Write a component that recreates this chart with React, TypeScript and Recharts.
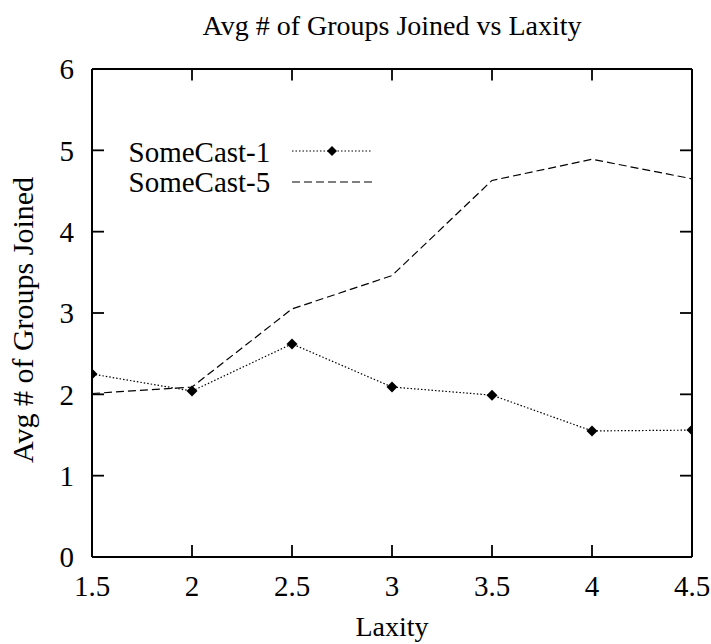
import React from 'react';
import { LineChart, Line, XAxis, YAxis, Legend, Customized, ReferenceLine } from 'recharts';

const laxity = [1.5, 2, 2.5, 3, 3.5, 4, 4.5];
const someCast1 = [2.25, 2.04, 2.62, 2.09, 1.99, 1.55, 1.56];
const someCast5 = [2.01, 2.09, 3.05, 3.46, 4.63, 4.89, 4.65];
const xTicks = [1.5, 2, 2.5, 3, 3.5, 4, 4.5];
const yTicks = [0, 1, 2, 3, 4, 5, 6];

const data = laxity.map((x, i) => ({ x, s1: someCast1[i], s5: someCast5[i] }));

const FONT = '"Liberation Serif", "Times New Roman", serif';
const DOT_DASH = '1.5 2';
const DASH = '8 4';
const X_MIN = 1.5;
const X_MAX = 4.5;
const Y_MIN = 0;
const Y_MAX = 6;
// mirrored tick lengths on the top / right frame, in data units
const TOP_TICK = 0.14;
const RIGHT_TICK = 0.06;

const Diamond = (props: any) => {
  const { cx, cy } = props;
  if (cx == null || cy == null) return null;
  const r = 5.5;
  return <path d={`M${cx},${cy - r} L${cx + r},${cy} L${cx},${cy + r} L${cx - r},${cy} Z`} fill="#000" />;
};

const LegendContent = () => (
  <svg width={270} height={72} style={{ display: 'block' }}>
    <text x={8.5} y={32} fontFamily={FONT} fontSize={29} fill="#000">SomeCast-1</text>
    <line x1={172} y1={21} x2={252} y2={21} stroke="#000" strokeWidth={1.2} strokeDasharray={DOT_DASH} />
    <path d="M212,16 L217,21 L212,26 L207,21 Z" fill="#000" />
    <text x={8.5} y={62} fontFamily={FONT} fontSize={29} fill="#000">SomeCast-5</text>
    <line x1={172} y1={52} x2={252} y2={52} stroke="#000" strokeWidth={1.2} strokeDasharray={DASH} />
  </svg>
);

const Texts = () => (
  <g>
    <text x={392} y={35} textAnchor="middle" fontFamily={FONT} fontSize={28} fill="#000">
      Avg # of Groups Joined vs Laxity
    </text>
    <text x={392} y={636} textAnchor="middle" fontFamily={FONT} fontSize={28} fill="#000">
      Laxity
    </text>
    <text x={33} y={320} textAnchor="middle" transform="rotate(-90, 33, 320)" fontFamily={FONT} fontSize={30} fill="#000">
      Avg # of Groups Joined
    </text>
  </g>
);

export default function App() {
  return (
    <div style={{ position: 'absolute', left: 0, top: 0, width: 711, height: 644, background: '#fff' }}>
      <LineChart width={711} height={644} data={data} margin={{ top: 68, right: 18, bottom: 47, left: 32 }}>
        <XAxis
          xAxisId="b"
          dataKey="x"
          type="number"
          domain={[X_MIN, X_MAX]}
          ticks={xTicks}
          tickFormatter={(v: number) => String(v)}
          height={40}
          axisLine={{ stroke: '#000', strokeWidth: 2 }}
          tickLine={{ stroke: '#000', strokeWidth: 1.8 }}
          tickSize={-12}
          tickMargin={30}
          tick={{ fill: '#000', fontFamily: FONT, fontSize: 29 }}
          allowDataOverflow
        />
        <XAxis xAxisId="t" orientation="top" dataKey="x" type="number" domain={[X_MIN, X_MAX]} height={1}
          axisLine={{ stroke: '#000', strokeWidth: 2 }} tickLine={false} tick={false as any} allowDataOverflow />
        <YAxis
          yAxisId="l"
          type="number"
          domain={[Y_MIN, Y_MAX]}
          ticks={yTicks}
          width={60}
          axisLine={{ stroke: '#000', strokeWidth: 2 }}
          tickLine={{ stroke: '#000', strokeWidth: 1.8 }}
          tickSize={-12}
          tickMargin={30}
          tick={{ fill: '#000', fontFamily: FONT, fontSize: 29 }}
        />
        <YAxis yAxisId="r" orientation="right" type="number" domain={[Y_MIN, Y_MAX]} width={1}
          axisLine={{ stroke: '#000', strokeWidth: 2 }} tickLine={false} tick={false as any} />
        <Line xAxisId="t" yAxisId="r" type="linear" dataKey="s1" stroke="none" dot={false} activeDot={false} legendType="none" isAnimationActive={false} />
        {xTicks.map((v) => (
          <ReferenceLine key={`tt${v}`} xAxisId="b" yAxisId="l"
            segment={[{ x: v, y: Y_MAX }, { x: v, y: Y_MAX - TOP_TICK }]}
            stroke="#000" strokeWidth={1.8} ifOverflow="visible" />
        ))}
        {yTicks.map((v) => (
          <ReferenceLine key={`rt${v}`} xAxisId="b" yAxisId="l"
            segment={[{ x: X_MAX, y: v }, { x: X_MAX - RIGHT_TICK, y: v }]}
            stroke="#000" strokeWidth={1.8} ifOverflow="visible" />
        ))}
        <Line xAxisId="b" yAxisId="l" type="linear" dataKey="s5" name="SomeCast-5" stroke="#000" strokeWidth={1.2}
          strokeDasharray={DASH} dot={false} activeDot={false} isAnimationActive={false} />
        <Line xAxisId="b" yAxisId="l" type="linear" dataKey="s1" name="SomeCast-1" stroke="#000" strokeWidth={1.2}
          strokeDasharray={DOT_DASH} dot={<Diamond />} activeDot={false} isAnimationActive={false} />
        <Legend layout="horizontal" verticalAlign="middle" align="center" content={<LegendContent />}
          wrapperStyle={{ position: 'absolute', left: 120, top: 130, width: 270, height: 72 }} />
        <Customized component={<Texts />} />
      </LineChart>
    </div>
  );
}
